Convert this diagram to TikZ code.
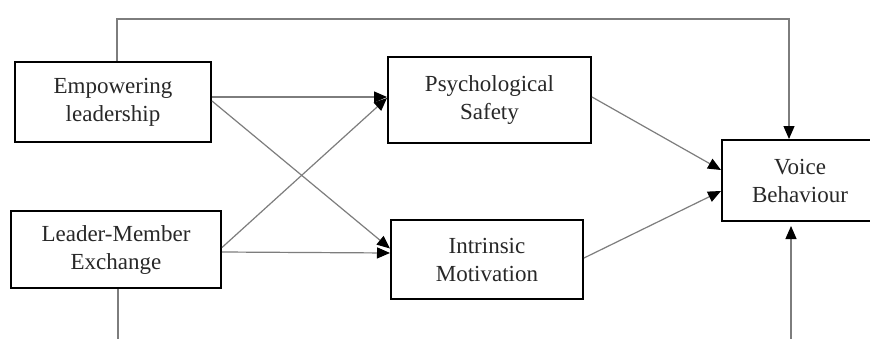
\documentclass[tikz,border=0pt]{standalone}
\usepackage{fontspec}
\setmainfont{Liberation Serif}
\usetikzlibrary{arrows.meta}
\definecolor{conncol}{RGB}{125,125,125}
\definecolor{txtcol}{RGB}{40,40,40}
\begin{document}
\begin{tikzpicture}[x=1pt,y=-1pt,
  box/.style={draw=black,line width=2pt,rectangle,align=center,inner sep=0pt,
    font=\fontsize{23}{28}\selectfont,text=txtcol},
  conn/.style={draw=conncol,line width=1.2pt},
  arr/.style={conn,-{Triangle[length=13pt,width=11pt,color=black]}}]
\useasboundingbox (0,0) rectangle (870,338);
\fill[white] (0,0) rectangle (870,338);
\clip (0,0) rectangle (870,338);
\node[box,minimum width=196pt,minimum height=80pt] (EL) at (113,102) {Empowering\\leadership};
\node[box,minimum width=210pt,minimum height=77pt] (LMX) at (116,249.5) {Leader-Member\\Exchange};
\node[box,minimum width=203pt,minimum height=86pt] (PS) at (489.5,100) {Psychological\\Safety};
\node[box,minimum width=192pt,minimum height=79pt] (IM) at (487,259.5) {Intrinsic\\Motivation};
\node[box,minimum width=156pt,minimum height=81pt] (VB) at (800,180.5) {Voice\\Behaviour};
% straight connectors
\draw[arr] ([yshift=5pt]EL.east) -- ([yshift=3pt]PS.west);
\draw[arr] ([yshift=1pt]EL.east) -- ([yshift=11pt]IM.west);
\draw[arr] ([yshift=2pt]LMX.east) -- ([yshift=2pt]PS.west);
\draw[arr] ([yshift=-2.5pt]LMX.east) -- ([yshift=6.5pt]IM.west);
\draw[arr] ([yshift=3pt]PS.east) -- ([yshift=10.5pt]VB.west);
\draw[arr] ([yshift=1.5pt]IM.east) -- ([yshift=-10.5pt]VB.west);
% top route
\coordinate (topL) at (117,19);
\coordinate (topR) at (789,19);
\draw[arr] (EL.north -| topL) -- (topL) -- (topR) -- (VB.north -| topR);
% bottom routes
\coordinate (botL) at (118,340);
\coordinate (botR) at (791,340);
\draw[conn] (LMX.south -| botL) -- (botL);
\draw[arr] (botR) -- ([yshift=-4pt]VB.south -| botR);
\end{tikzpicture}
\end{document}
